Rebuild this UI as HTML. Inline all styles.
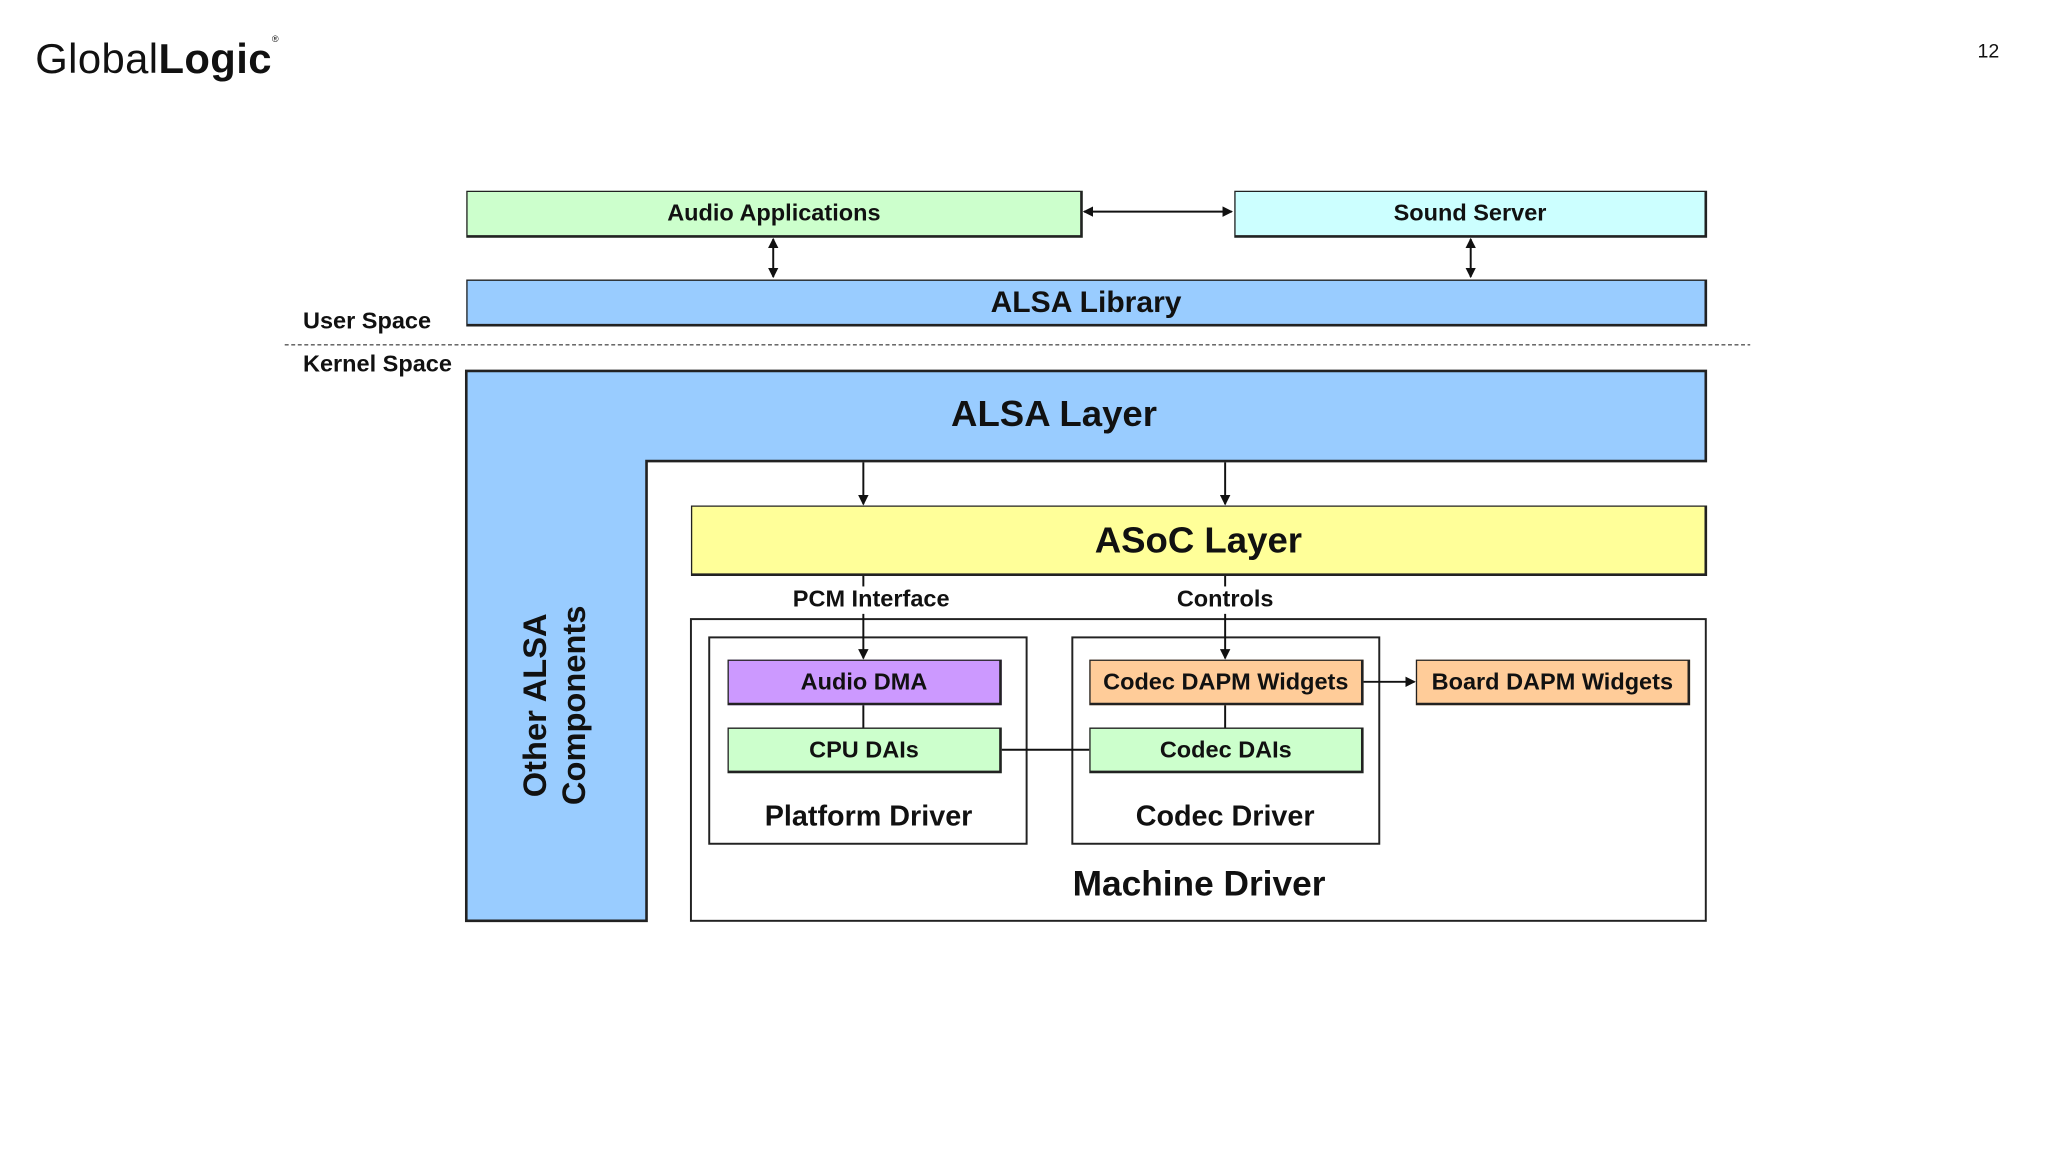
<!DOCTYPE html>
<html><head><meta charset="utf-8"><style>
html,body{margin:0;padding:0;background:#fff;width:2048px;height:1152px;overflow:hidden}
#s{position:absolute;left:0;top:0;width:1568px;height:882px;transform:scale(1.306122);transform-origin:0 0;font-family:"Liberation Sans",sans-serif;color:#111}
.b{position:absolute;box-sizing:border-box;border:1.5px solid #222;border-right-width:2.5px;border-bottom-width:2.5px;display:flex;align-items:center;justify-content:center;font-weight:bold}
.t{position:absolute;white-space:nowrap;transform:translate(-50%,-50%);font-weight:bold}
svg{position:absolute;left:0;top:0}
</style></head><body><div id="s">
<div style="position:absolute;left:27px;top:27px;font-size:32px;letter-spacing:0.3px;color:#111">Global<b>Logic</b><sup style="font-size:7px;vertical-align:top">®</sup></div>
<div style="position:absolute;left:1514px;top:31px;font-size:15px">12</div>

<svg width="1568" height="882">
<defs><marker id="a" markerWidth="8" markerHeight="8" refX="7" refY="4" orient="auto-start-reverse" markerUnits="userSpaceOnUse"><path d="M0,0 L8,4 L0,8 z" fill="#111"/></marker></defs>
<path d="M357,284 H1306 V353 H495 V705 H357 Z" fill="#99ccff" stroke="#222" stroke-width="2"/>
<rect x="529" y="474" width="777" height="231" fill="#fff" stroke="#222" stroke-width="1.5"/>
<rect x="543" y="488" width="243" height="158" fill="#fff" stroke="#222" stroke-width="1.5"/>
<rect x="821" y="488" width="235" height="158" fill="#fff" stroke="#222" stroke-width="1.5"/>
<line x1="218" y1="264" x2="1340" y2="264" stroke="#555" stroke-width="1" stroke-dasharray="3,2"/>
<g stroke="#111" stroke-width="1.5" fill="none">
<line x1="830" y1="162" x2="943" y2="162" marker-start="url(#a)" marker-end="url(#a)"/>
<line x1="592" y1="183" x2="592" y2="212" marker-start="url(#a)" marker-end="url(#a)"/>
<line x1="1126" y1="183" x2="1126" y2="212" marker-start="url(#a)" marker-end="url(#a)"/>
<line x1="661" y1="354" x2="661" y2="386" marker-end="url(#a)"/>
<line x1="938" y1="354" x2="938" y2="386" marker-end="url(#a)"/>
<line x1="661" y1="441" x2="661" y2="449"/>
<line x1="938" y1="441" x2="938" y2="449"/>
<line x1="661" y1="470" x2="661" y2="504" marker-end="url(#a)"/>
<line x1="938" y1="470" x2="938" y2="504" marker-end="url(#a)"/>
<line x1="661" y1="539" x2="661" y2="557"/>
<line x1="938" y1="539" x2="938" y2="557"/>
<line x1="766" y1="574" x2="834" y2="574"/>
<line x1="1043" y1="522" x2="1083" y2="522" marker-end="url(#a)"/>
</g>
</svg>

<div class="b" style="left:357px;top:146px;width:472px;height:36px;background:#ccffcc;font-size:18px">Audio Applications</div>
<div class="b" style="left:945px;top:146px;width:362px;height:36px;background:#ccffff;font-size:18px">Sound Server</div>
<div class="b" style="left:357px;top:214px;width:950px;height:36px;background:#99ccff;font-size:23px">ALSA Library</div>
<div class="t" style="left:281px;top:246px;font-size:18px">User Space</div>
<div class="t" style="left:289px;top:279px;font-size:18px">Kernel Space</div>
<div class="t" style="left:807px;top:317px;font-size:28px">ALSA Layer</div>
<div class="t" style="left:425px;top:540px;font-size:25px;transform:translate(-50%,-50%) rotate(-90deg);text-align:center;line-height:30px">Other ALSA<br>Components</div>
<div class="b" style="left:529px;top:387px;width:778px;height:54px;background:#ffff99;font-size:28px">ASoC Layer</div>
<div class="t" style="left:667px;top:459px;font-size:18px">PCM Interface</div>
<div class="t" style="left:938px;top:459px;font-size:18px">Controls</div>
<div class="b" style="left:557px;top:505px;width:210px;height:35px;background:#cc99ff;font-size:18px">Audio DMA</div>
<div class="b" style="left:557px;top:557px;width:210px;height:35px;background:#ccffcc;font-size:18px">CPU DAIs</div>
<div class="b" style="left:834px;top:505px;width:210px;height:35px;background:#ffcc99;font-size:18px">Codec DAPM Widgets</div>
<div class="b" style="left:834px;top:557px;width:210px;height:35px;background:#ccffcc;font-size:18px">Codec DAIs</div>
<div class="b" style="left:1084px;top:505px;width:210px;height:35px;background:#ffcc99;font-size:18px">Board DAPM Widgets</div>
<div class="t" style="left:665px;top:625px;font-size:22px">Platform Driver</div>
<div class="t" style="left:938px;top:625px;font-size:22px">Codec Driver</div>
<div class="t" style="left:918px;top:677px;font-size:27px">Machine Driver</div>
</div></body></html>
